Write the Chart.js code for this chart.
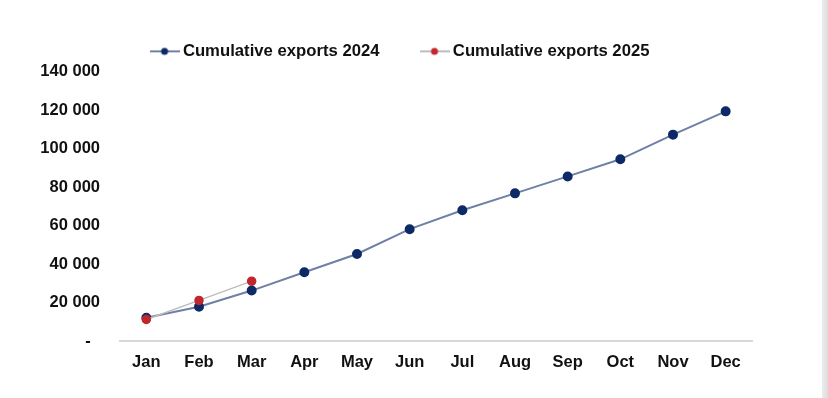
<!DOCTYPE html>
<html>
<head>
<meta charset="utf-8">
<script src="https://cdn.jsdelivr.net/npm/chart.js@4"></script>
<style>
  body { margin: 0; background: #fff; }
  #wrap { position: relative; width: 828px; height: 398px; }
  #edge { position: absolute; left: 822px; top: 0; width: 6px; height: 398px; background: linear-gradient(to right, #ececec, #dcdcdc); }
</style>
</head>
<body>
<div id="wrap">
  <canvas id="grafico" width="828" height="398"></canvas>
  <div id="edge"></div>
</div>
<script>
// Dados do gráfico
const months = ['Jan', 'Feb', 'Mar', 'Apr', 'May', 'Jun', 'Jul', 'Aug', 'Sep', 'Oct', 'Nov', 'Dec'];
const exports2024 = [12200, 17900, 26300, 35800, 45300, 58200, 68000, 76800, 85600, 94500, 107300, 119400];
const exports2025 = [11300, 21200, 31200];
const seriesNames = ['Cumulative exports 2024', 'Cumulative exports 2025'];
const yTicks = [0, 20000, 40000, 60000, 80000, 100000, 120000, 140000];

const fontFamily = '"Liberation Sans", Arial, sans-serif';

// marcador da legenda: linha com ponto
function legendMarker(lineColor, dotColor) {
    const c = document.createElement('canvas');
    c.width = 30; c.height = 10;
    const g = c.getContext('2d');
    g.strokeStyle = lineColor;
    g.lineWidth = 2;
    g.beginPath(); g.moveTo(0, 5); g.lineTo(30, 5); g.stroke();
    g.fillStyle = dotColor;
    g.beginPath(); g.arc(15, 5, 3.5, 0, Math.PI * 2); g.fill();
    return c;
}

const colors = [
    { line: '#6f80a6', dot: '#0d2a66' },
    { line: '#bdbdbd', dot: '#c1272d' }
];

// desloca a legenda depois do layout (centro como no original)
const moveLegend = {
    id: 'moveLegend',
    afterLayout: function (chart) {
        const lg = chart.legend;
        lg.left += 26; lg.right += 26;
        lg.top -= 2; lg.bottom -= 2;
    }
};

const ctx = document.getElementById('grafico').getContext('2d');
new Chart(ctx, {
    type: 'line',
    data: {
        labels: months,
        datasets: [{
            label: seriesNames[0],
            data: exports2024,
            borderColor: colors[0].line,
            backgroundColor: colors[0].dot,
            pointBackgroundColor: colors[0].dot,
            pointBorderColor: colors[0].dot,
            borderWidth: 2,
            pointRadius: 4,
            order: 1
        }, {
            label: seriesNames[1],
            data: exports2025,
            borderColor: colors[1].line,
            backgroundColor: colors[1].dot,
            pointBackgroundColor: colors[1].dot,
            pointBorderColor: colors[1].dot,
            borderWidth: 1.5,
            pointRadius: 4,
            order: 0
        }]
    },
    plugins: [moveLegend],
    options: {
        responsive: false,
        animation: false,
        layout: { padding: { left: 0, right: 76, top: 0, bottom: 15 } },
        plugins: {
            tooltip: { enabled: false },
            legend: {
                position: 'top',
                labels: {
                    usePointStyle: true,
                    pointStyleWidth: 20,
                    padding: 45,
                    color: '#111',
                    font: { family: fontFamily, size: 16.7, weight: 'bold' },
                    generateLabels: function (chart) {
                        return chart.data.datasets.map((ds, i) => ({
                            text: ds.label,
                            datasetIndex: i,
                            pointStyle: legendMarker(colors[i].line, colors[i].dot),
                            fillStyle: colors[i].dot,
                            strokeStyle: colors[i].line,
                            lineWidth: 0,
                            fontColor: '#111'
                        }));
                    }
                }
            }
        },
        scales: {
            x: {
                offset: true,
                grid: { display: false, drawTicks: false },
                border: { display: true, color: '#d9d9d9', width: 2 },
                ticks: {
                    padding: 11,
                    color: '#111',
                    font: { family: fontFamily, size: 16.5, weight: 'bold' }
                }
            },
            y: {
                min: 0,
                max: 140000,
                afterFit: function (scale) { scale.width = 120; },
                afterBuildTicks: function (scale) {
                    scale.ticks = yTicks.map(v => ({ value: v }));
                },
                grid: { display: false, drawTicks: false },
                border: { display: false },
                ticks: {
                    padding: 20,
                    color: '#111',
                    font: { family: fontFamily, size: 16.5, weight: 'bold' },
                    callback: function (value) {
                        if (value === 0) return '-  ';
                        return value.toLocaleString('en-US').replace(/,/g, ' ');
                    }
                }
            }
        }
    }
});
</script>
</body>
</html>
